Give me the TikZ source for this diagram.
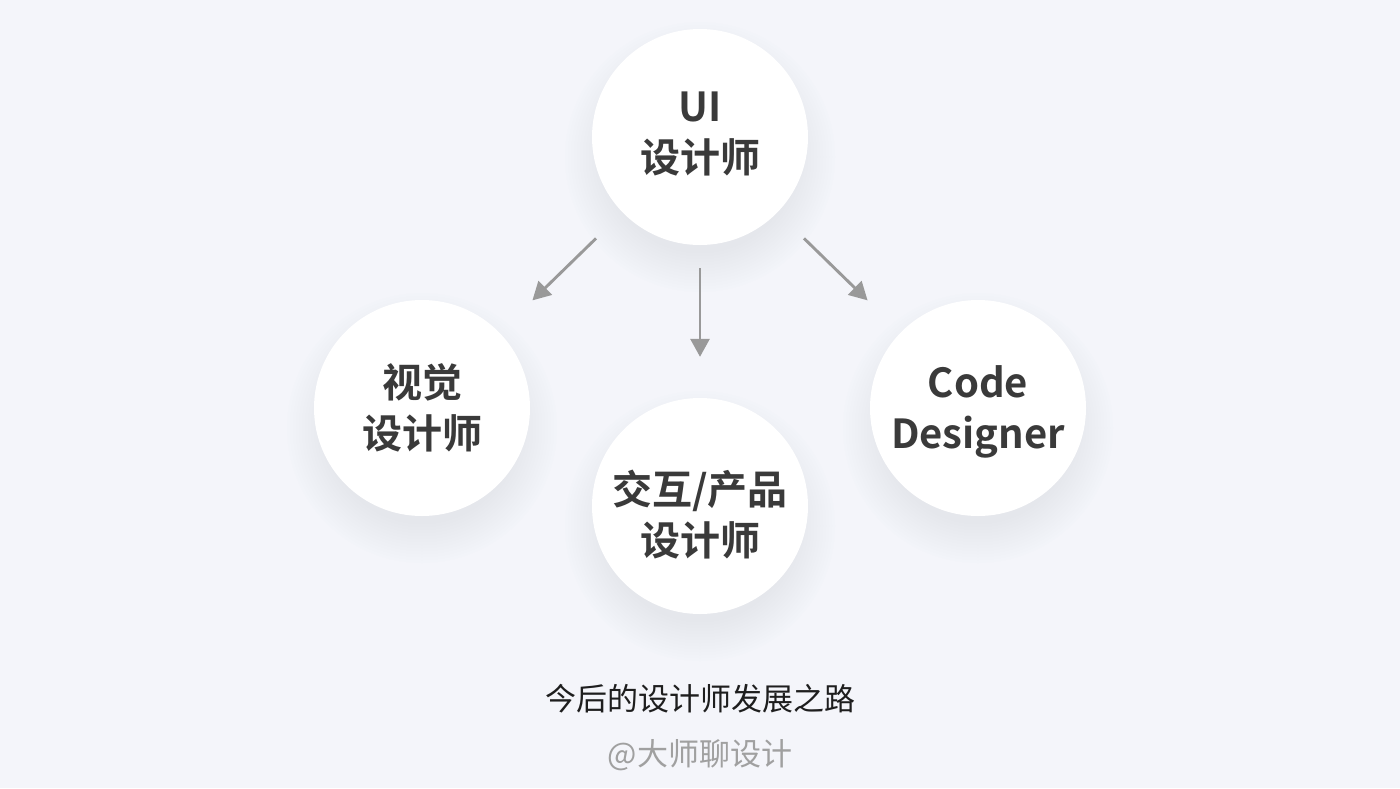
\documentclass[tikz,border=0pt]{standalone}
\usepackage{fontspec}
\setmainfont{Noto Sans CJK SC}[BoldFont={Noto Sans CJK SC Bold}]
\usetikzlibrary{arrows.meta, positioning, backgrounds}
\definecolor{cBack}{RGB}{244,245,250}
\definecolor{cHalo}{RGB}{200,207,230}
\definecolor{cInk}{RGB}{58,58,58}
\definecolor{cArrow}{RGB}{153,153,153}
\definecolor{cCaption}{RGB}{30,30,30}
\definecolor{cHandle}{RGB}{160,160,160}
\tikzset{
  bubble/.style={circle, fill=white, minimum size=216pt, inner sep=0pt},
  bubbletext/.style={align=center, text=cInk,
                     font=\fontsize{40}{51}\selectfont\bfseries},
  flowarrow/.style={-{Triangle[length=18pt, width=19pt]},
                    line width=2.9pt, color=cArrow},
  captiontext/.style={font=\fontsize{31}{36}\selectfont, text=cCaption},
  handletext/.style={font=\fontsize{31}{36}\selectfont, text=cHandle}
}

\begin{document}
\begin{tikzpicture}[x=1pt, y=-1pt]
  \useasboundingbox (0,0) rectangle (1400,788);

  % circles
  \node[bubble] (ui) at (700,137) {};
  \node[bubble] (visual) at (422,408) {};
  \node[bubble] (interact) at (700,506) {};
  \node[bubble] (coder) at (978,408) {};

  % texts
  \node[bubbletext] (uitext) at (700,134) {UI\\设计师};
  \node[bubbletext] (visualtext) at (422,408) {视觉\\设计师};
  \node[bubbletext] (interacttext) at (700,515) {交互/产品\\设计师};
  \node[bubbletext] (codertext) at (978,412) {Code\\Designer};

  \node[captiontext] (caption) at (700,699) {今后的设计师发展之路};
  \node[handletext] (handle) at (700,755) {@大师聊设计};

  % arrows
  \draw[flowarrow, shorten <=37pt, shorten >=46pt] (ui) -- (visual);
  \draw[flowarrow, shorten <=23pt, shorten >=41pt] (ui) -- (interact);
  \draw[flowarrow, shorten <=37pt, shorten >=46pt] (ui) -- (coder);

  % background and soft shadows
  \begin{scope}[on background layer]
    \fill[cBack] (0,0) rectangle (1400,788);
    \foreach \n in {ui, visual, interact, coder}
      \foreach \r in {96,99,...,136}
        \fill[cHalo, opacity=0.025] ([yshift=-20pt]\n.center) circle[radius=\r pt];
  \end{scope}
\end{tikzpicture}
\end{document}
